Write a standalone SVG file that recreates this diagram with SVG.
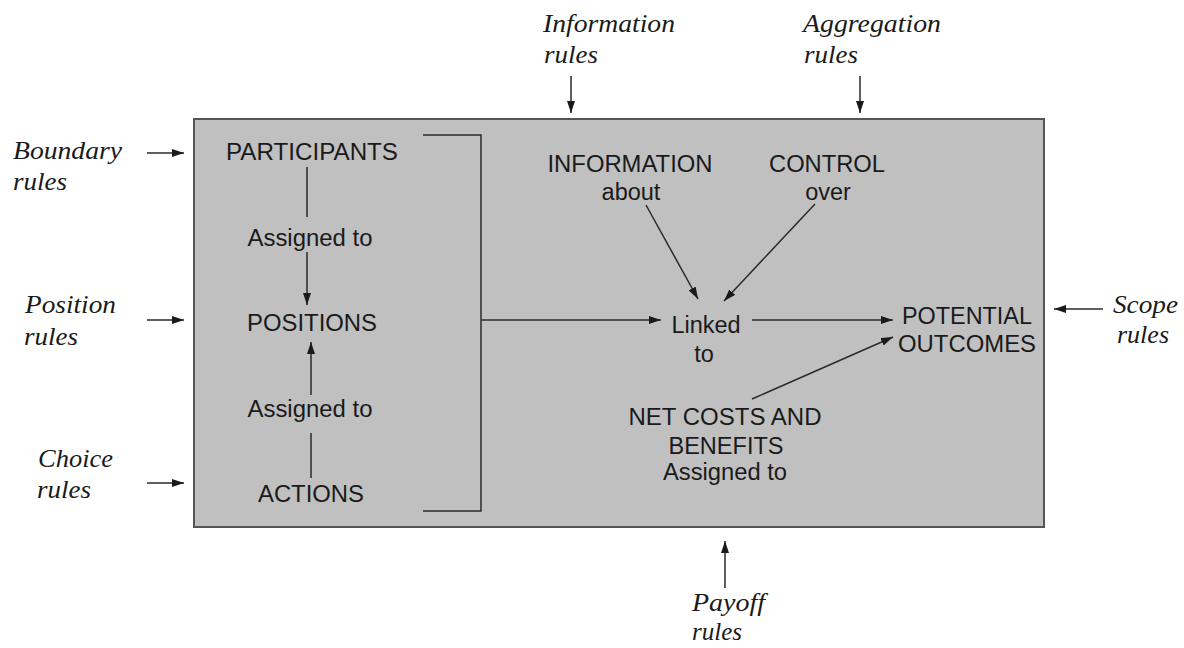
<svg xmlns="http://www.w3.org/2000/svg" width="1184" height="648" viewBox="0 0 1184 648">
<defs>
<marker id="ah" viewBox="0 0 12 8" refX="12" refY="4" markerWidth="12" markerHeight="8" markerUnits="userSpaceOnUse" orient="auto">
<path d="M0,0 L12,4 L0,8 z" fill="#1a1a1a"/>
</marker>
<style>
.lbl{font-family:"Liberation Serif","Times New Roman",serif;font-style:italic;font-size:26px;fill:#1a1a1a}
.t{font-family:"Liberation Sans",Arial,sans-serif;font-size:23.5px;fill:#1a1a1a;text-anchor:middle}
.ln{stroke:#2a2a2a;stroke-width:1.5;fill:none}
.ar{stroke:#2a2a2a;stroke-width:1.5;fill:none;marker-end:url(#ah)}
</style>
</defs>
<rect width="1184" height="648" fill="#ffffff"/>
<g id="arena">
<rect x="194" y="119" width="850" height="408" fill="#c0c0c0" stroke="#555555" stroke-width="2"/>
</g>
<g id="participants"><text class="t" x="312" y="160" textLength="172" lengthAdjust="spacingAndGlyphs">PARTICIPANTS</text></g>
<g id="assigned1"><text class="t" x="310" y="246" textLength="125" lengthAdjust="spacingAndGlyphs">Assigned to</text></g>
<g id="positions"><text class="t" x="312" y="331" textLength="130" lengthAdjust="spacingAndGlyphs">POSITIONS</text></g>
<g id="assigned2"><text class="t" x="310" y="417" textLength="125" lengthAdjust="spacingAndGlyphs">Assigned to</text></g>
<g id="actions"><text class="t" x="311" y="502" textLength="106" lengthAdjust="spacingAndGlyphs">ACTIONS</text></g>
<g id="information"><text class="t" x="630" y="172" textLength="165" lengthAdjust="spacingAndGlyphs">INFORMATION</text><text class="t" x="631" y="200">about</text></g>
<g id="control"><text class="t" x="827" y="172" textLength="116" lengthAdjust="spacingAndGlyphs">CONTROL</text><text class="t" x="828" y="200">over</text></g>
<g id="linked"><text class="t" x="706" y="333">Linked</text><text class="t" x="704" y="362">to</text></g>
<g id="outcomes"><text class="t" x="967" y="324" textLength="130" lengthAdjust="spacingAndGlyphs">POTENTIAL</text><text class="t" x="967" y="352" textLength="138" lengthAdjust="spacingAndGlyphs">OUTCOMES</text></g>
<g id="netcosts"><text class="t" x="725" y="425" textLength="193" lengthAdjust="spacingAndGlyphs">NET COSTS AND</text><text class="t" x="726" y="454" textLength="115" lengthAdjust="spacingAndGlyphs">BENEFITS</text><text class="t" x="725" y="480" textLength="124" lengthAdjust="spacingAndGlyphs">Assigned to</text></g>
<g id="boundary-rules"><text class="lbl" x="13" y="159" textLength="109" lengthAdjust="spacingAndGlyphs">Boundary</text><text class="lbl" x="13" y="190" textLength="54" lengthAdjust="spacingAndGlyphs">rules</text></g>
<g id="position-rules"><text class="lbl" x="25" y="313" textLength="91" lengthAdjust="spacingAndGlyphs">Position</text><text class="lbl" x="24" y="345" textLength="54" lengthAdjust="spacingAndGlyphs">rules</text></g>
<g id="choice-rules"><text class="lbl" x="38" y="467" textLength="75" lengthAdjust="spacingAndGlyphs">Choice</text><text class="lbl" x="37" y="498" textLength="54" lengthAdjust="spacingAndGlyphs">rules</text></g>
<g id="information-rules"><text class="lbl" x="543" y="32" textLength="132" lengthAdjust="spacingAndGlyphs">Information</text><text class="lbl" x="544" y="63" textLength="54" lengthAdjust="spacingAndGlyphs">rules</text></g>
<g id="aggregation-rules"><text class="lbl" x="803" y="32" textLength="138" lengthAdjust="spacingAndGlyphs">Aggregation</text><text class="lbl" x="804" y="63" textLength="54" lengthAdjust="spacingAndGlyphs">rules</text></g>
<g id="scope-rules"><text class="lbl" x="1113" y="313" textLength="65" lengthAdjust="spacingAndGlyphs">Scope</text><text class="lbl" x="1117" y="343" textLength="52" lengthAdjust="spacingAndGlyphs">rules</text></g>
<g id="payoff-rules"><text class="lbl" x="692" y="611" textLength="73" lengthAdjust="spacingAndGlyphs">Payoff</text><text class="lbl" x="692" y="640" textLength="50" lengthAdjust="spacingAndGlyphs">rules</text></g>
<g id="connectors">
<line class="ln" x1="307" y1="167" x2="307" y2="217"/>
<line class="ar" x1="307" y1="252" x2="307" y2="305"/>
<line class="ar" x1="311" y1="395" x2="311" y2="342"/>
<line class="ln" x1="311" y1="433" x2="311" y2="478"/>
<polyline class="ln" points="423,135 481,135 481,511 423,511"/>
<line class="ar" x1="481" y1="320" x2="661" y2="320"/>
<line class="ar" x1="646" y1="205" x2="698" y2="299"/>
<line class="ar" x1="815" y1="204" x2="724" y2="301"/>
<line class="ar" x1="752" y1="320" x2="893" y2="320"/>
<line class="ar" x1="752" y1="399" x2="893" y2="337"/>
<line class="ar" x1="147" y1="153" x2="184" y2="153"/>
<line class="ar" x1="147" y1="320" x2="184" y2="320"/>
<line class="ar" x1="147" y1="483" x2="184" y2="483"/>
<line class="ar" x1="571" y1="76" x2="571" y2="113"/>
<line class="ar" x1="860" y1="76" x2="860" y2="113"/>
<line class="ar" x1="1103" y1="309" x2="1054" y2="309"/>
<line class="ar" x1="725" y1="588" x2="725" y2="541"/>
</g>
</svg>
